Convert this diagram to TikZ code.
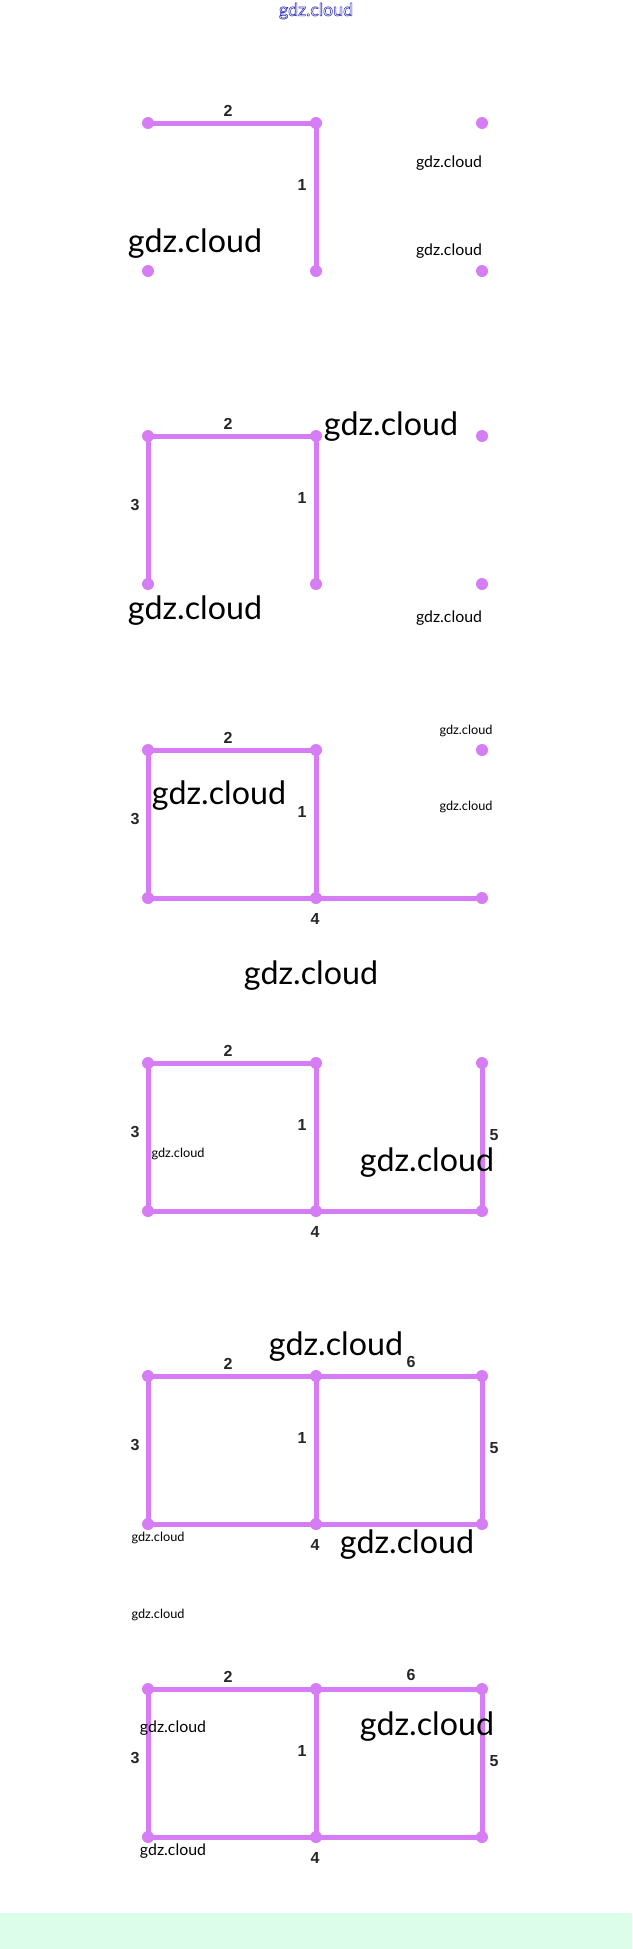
\documentclass[tikz,border=0pt]{standalone}
\usepackage{fontspec}
\setmainfont{Lato}
\newfontfamily\numfont{Liberation Sans}
\usepackage{graphicx}
\definecolor{edgecol}{RGB}{214,124,245}
\definecolor{bandcol}{RGB}{220,253,232}
\definecolor{wmblue}{RGB}{40,40,190}
\newcommand\wmtext[1]{\resizebox{#1}{!}{gdz.cloud}}
\begin{document}
\begin{tikzpicture}[x=1pt,y=-1pt,
  dot/.style={circle,fill=edgecol,inner sep=0pt,minimum size=12pt},
  edge/.style={draw=edgecol,line width=5pt},
  num/.style={inner sep=0pt,text=black!85,font=\numfont\bfseries\fontsize{16}{18}\selectfont},
  wm/.style={inner sep=0pt,text=black}]
\useasboundingbox (0,0) rectangle (632,1949);
\fill[bandcol] (0,1913) rectangle (632,1949);

% grid nodes of the six panels
\foreach \p/\T in {1/123,2/436,3/750,4/1063,5/1376,6/1689}{
  \coordinate (a\p) at (148,\T);
  \coordinate (b\p) at (316,\T);
  \coordinate (c\p) at (482,\T);
  \coordinate (d\p) at (148,\T+148);
  \coordinate (e\p) at (316,\T+148);
  \coordinate (f\p) at (482,\T+148);
}

% edges
\draw[edge] (a1) -- (b1) -- (e1);
\draw[edge] (d2) -- (a2) -- (b2) -- (e2);
\draw[edge] (e3) -- (b3) -- (a3) -- (d3) -- (e3) -- (f3);
\draw[edge] (e4) -- (b4) -- (a4) -- (d4) -- (e4) -- (f4) -- (c4);
\draw[edge] (e5) -- (b5) -- (a5) -- (d5) -- (e5) -- (f5) -- (c5) -- (b5);
\draw[edge] (e6) -- (b6) -- (a6) -- (d6) -- (e6) -- (f6) -- (c6) -- (b6);

% dots
\foreach \p in {1,...,6}{
  \foreach \q in {a,b,c,d,e,f}{
    \node[dot] (dot\q\p) at (\q\p) {};
  }
}

% edge labels
\foreach \p/\T in {1/123,2/436,3/750,4/1063,5/1376,6/1689}{
  \node[num] (lbltwo\p) at (228,\T-12) {2};
  \node[num] (lblone\p) at (302,\T+62) {1};
}
\foreach \p/\T in {2/436,3/750,4/1063,5/1376,6/1689}{
  \node[num] (lblthree\p) at (135,\T+69) {3};
}
\foreach \p/\T in {3/750,4/1063,5/1376,6/1689}{
  \node[num] (lblfour\p) at (315,\T+169) {4};
}
\foreach \p/\T in {4/1063,5/1376,6/1689}{
  \node[num] (lblfive\p) at (494,\T+72) {5};
}
\foreach \p/\T in {5/1376,6/1689}{
  \node[num] (lblsix\p) at (411,\T-14) {6};
}

% watermarks
\node[inner sep=0pt] (wmtop) at (316,11) {\color{wmblue}\special{pdf:literal direct 1 Tr 0.3 w}\wmtext{74pt}\special{pdf:literal direct 0 Tr}};
\node[wm] (wm1a) at (195,244) {\wmtext{134pt}};
\node[wm] (wm1b) at (449,163) {\wmtext{66pt}};
\node[wm] (wm1c) at (449,251) {\wmtext{66pt}};
\node[wm] (wm2a) at (391,427) {\wmtext{134pt}};
\node[wm] (wm2b) at (195,611) {\wmtext{134pt}};
\node[wm] (wm2c) at (449,618) {\wmtext{66pt}};
\node[wm] (wm3a) at (466,731) {\wmtext{53pt}};
\node[wm] (wm3b) at (219,796) {\wmtext{134pt}};
\node[wm] (wm3c) at (466,807) {\wmtext{53pt}};
\node[wm] (wm3d) at (311,976) {\wmtext{134pt}};
\node[wm] (wm4a) at (178,1154) {\wmtext{53pt}};
\node[wm] (wm4b) at (427,1163) {\wmtext{134pt}};
\node[wm] (wm5a) at (336,1347) {\wmtext{134pt}};
\node[wm] (wm5b) at (158,1538) {\wmtext{53pt}};
\node[wm] (wm5c) at (407,1545) {\wmtext{134pt}};
\node[wm] (wm5d) at (158,1615) {\wmtext{53pt}};
\node[wm] (wm6a) at (173,1728) {\wmtext{66pt}};
\node[wm] (wm6b) at (427,1727) {\wmtext{134pt}};
\node[wm] (wm6c) at (173,1851) {\wmtext{66pt}};
\end{tikzpicture}
\end{document}
